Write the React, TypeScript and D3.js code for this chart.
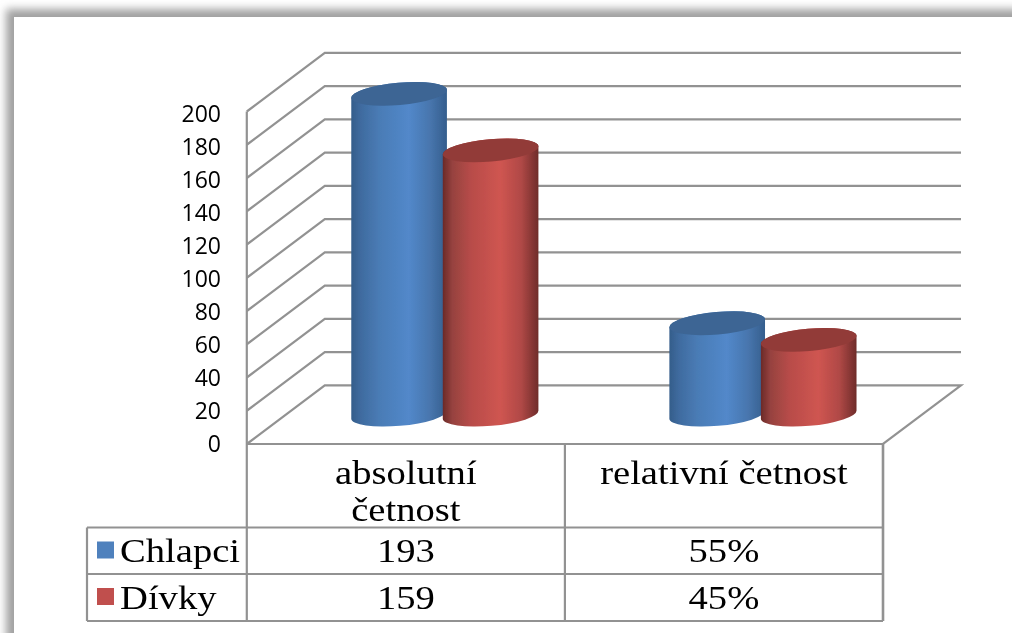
import React from "react";
import * as d3 from "d3";

const categories = ["absolutní četnost", "relativní četnost"];
const categoryLines = [["absolutní", "četnost"], ["relativní četnost"]];
const seriesNames = ["Chlapci", "Dívky"];
const chlapciValues = [193, 55];
const divkyValues = [159, 45];
const chlapciLabels = ["193", "55%"];
const divkyLabels = ["159", "45%"];
const yTicks = [0, 20, 40, 60, 80, 100, 120, 140, 160, 180, 200];

const W = 1012, H = 633;
const left = 246.8, right = 883, yBase = 444, yTop = 111.5;
const dx = 78, dy = -58.6;
const leftTable = 87;
const rowA = 527.5, rowB = 574, rowC = 621;
const lineColor = "#929292";

const y = d3.scaleLinear().domain([0, 200]).range([yBase, yTop]);
const yLabel = d3.scaleLinear().domain([0, 200]).range([452, 121.7]);
const x0 = d3.scaleBand<string>().domain(categories).range([left, right]);
const x1 = d3.scaleBand<string>().domain(seriesNames).range([-91.5, 91.5]);

const rx = 48, ry = 11.2, tilt = -5;
const rad = (tilt * Math.PI) / 180;
const stretch = 1.17;

function Cylinder({ cx, value, side, top }: { cx: number; value: number; side: string; top: string }) {
  const yb = y(0) + dy / 2;
  const yt = y(value) + dy / 2;
  const ex = rx * Math.cos(rad), ey = rx * Math.sin(rad);
  const d = `M${cx - ex},${yt - ey} L${cx - ex},${yb - ey} A${rx},${ry} ${tilt} 0 0 ${cx + ex},${yb + ey} L${cx + ex},${yt + ey} A${rx},${ry} ${tilt} 0 0 ${cx - ex},${yt - ey} Z`;
  return (
    <g>
      <path d={d} fill={`url(#${side})`} />
      <ellipse cx={cx} cy={yt} rx={rx} ry={ry} fill={top} transform={`rotate(${tilt} ${cx} ${yt})`} />
    </g>
  );
}

function SerifText({ x, y: ty, anchor, children }: { x: number; y: number; anchor: string; children: React.ReactNode }) {
  return (
    <text transform={`translate(${x},${ty}) scale(${stretch},1)`} fontFamily="'Liberation Serif', serif" fontSize={33} fill="#000" textAnchor={anchor}>
      {children}
    </text>
  );
}

export default function App() {
  const grid = yTicks.map((t) => {
    const v = y(t);
    return t === 0
      ? `M${left},${v} L${left + dx},${v + dy} L${right + dx},${v + dy} L${right},${yBase} L${left},${yBase}`
      : `M${left},${v} L${left + dx},${v + dy} L${right + dx},${v + dy}`;
  });
  const bw = x0.bandwidth();
  const cols = categories.map((c) => (x0(c) as number) + bw / 2);
  const bars = [
    { name: seriesNames[0], vals: chlapciValues, side: "blueSide", top: "#3c6594" },
    { name: seriesNames[1], vals: divkyValues, side: "redSide", top: "#923b38" },
  ];
  const rows = [
    { name: seriesNames[0], labels: chlapciLabels, color: "#4f81bd", yTop: rowA, yBot: rowB },
    { name: seriesNames[1], labels: divkyLabels, color: "#c0504d", yTop: rowB, yBot: rowC },
  ];
  return (
    <svg width={W} height={H} viewBox={`0 0 ${W} ${H}`} style={{ position: "absolute", left: 0, top: 0, display: "block" }}>
      <defs>
        <filter id="shadow" x="-5%" y="-5%" width="110%" height="110%">
          <feGaussianBlur stdDeviation="4" />
        </filter>
        <filter id="soft" x="-2%" y="-2%" width="104%" height="104%">
          <feGaussianBlur stdDeviation="0.5" />
        </filter>
        <linearGradient id="blueSide" x1="0" x2="1" y1="0" y2="0">
          <stop offset="0" stopColor="#345d8a" />
          <stop offset="0.1" stopColor="#3f6b9f" />
          <stop offset="0.3" stopColor="#4a7cb6" />
          <stop offset="0.6" stopColor="#5288ca" />
          <stop offset="0.82" stopColor="#4876ae" />
          <stop offset="1" stopColor="#355e8d" />
        </linearGradient>
        <linearGradient id="redSide" x1="0" x2="1" y1="0" y2="0">
          <stop offset="0" stopColor="#6b2a28" />
          <stop offset="0.1" stopColor="#96423f" />
          <stop offset="0.3" stopColor="#b84c49" />
          <stop offset="0.6" stopColor="#cf5551" />
          <stop offset="0.82" stopColor="#b04946" />
          <stop offset="1" stopColor="#6f2c2a" />
        </linearGradient>
      </defs>

      <rect width={W} height={H} fill="#fff" />
      <rect x={6} y={9} width={W + 40} height={H + 40} fill="#a0a0a0" filter="url(#shadow)" />
      <rect x={14} y={17} width={W} height={H} fill="#fff" />

      <g filter="url(#soft)">
        <g fill="none" stroke={lineColor} strokeWidth={2.2}>
          {grid.map((d, i) => <path key={i} d={d} />)}
          <line x1={left} x2={left} y1={yTop} y2={rowC} />
          <line x1={x0(categories[1]) as number} x2={x0(categories[1]) as number} y1={yBase} y2={rowC} />
          <line x1={right} x2={right} y1={yBase} y2={rowC} strokeWidth={2.6} />
          <line x1={leftTable} x2={leftTable} y1={rowA} y2={rowC} />
          {[rowA, rowB, rowC].map((r) => <line key={r} x1={leftTable} x2={right} y1={r} y2={r} />)}
        </g>

        {categories.map((c, i) =>
          bars.map((b) => (
            <Cylinder key={c + b.name} cx={cols[i] + dx / 2 + (x1(b.name) as number) + x1.bandwidth() / 2}
              value={b.vals[i]} side={b.side} top={b.top} />
          ))
        )}

        <g fontFamily="'Open Sans', sans-serif" fontSize={23} fill="#000" textAnchor="end">
          {yTicks.map((t) => <text key={t} x={221} y={yLabel(t)}>{t}</text>)}
        </g>

        {categoryLines.map((lines, i) =>
          lines.map((l, j) => <SerifText key={l} x={cols[i]} y={484 + j * 37} anchor="middle">{l}</SerifText>)
        )}
        {rows.map((r) =>
          r.labels.map((l, i) => <SerifText key={l} x={cols[i]} y={r.yBot - 12} anchor="middle">{l}</SerifText>)
        )}

        {rows.map((r) => (
          <g key={r.name}>
            <rect x={97} y={r.yTop + 14} width={17} height={17} fill={r.color} />
            <SerifText x={120} y={r.yBot - 12} anchor="start">{r.name}</SerifText>
          </g>
        ))}
      </g>
    </svg>
  );
}
